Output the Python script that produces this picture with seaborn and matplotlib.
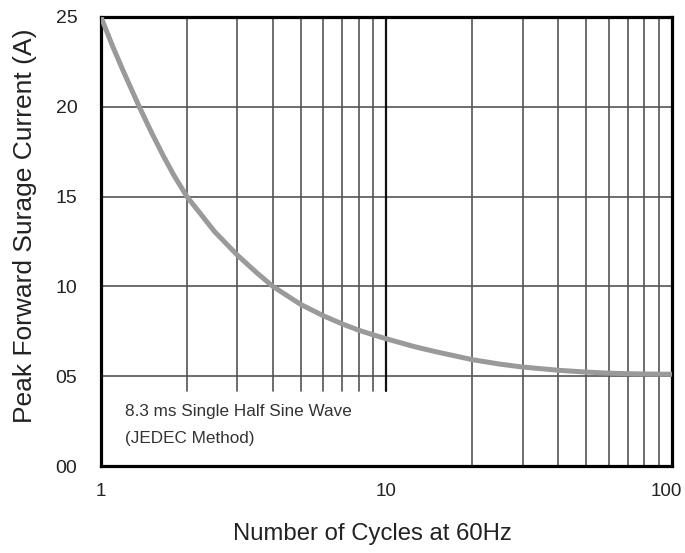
import matplotlib
matplotlib.use("Agg")
import matplotlib.pyplot as plt
import matplotlib.transforms as mtransforms
import seaborn as sns
import pandas as pd
from matplotlib.ticker import FixedLocator, FixedFormatter, NullLocator

# Data
cycles = [1, 1.1, 1.2, 1.362, 1.5, 1.653, 1.8, 2, 2.5, 3, 3.5, 4, 5, 6, 7, 8, 9, 10,
          12.5, 15, 20, 25, 30, 40, 50, 60, 70, 80, 90, 100]
current = [25.0, 23.35, 21.95, 20.0, 18.6, 17.27, 16.19, 15.0, 13.05, 11.75, 10.78, 10.0,
           9.0, 8.37, 7.91, 7.56, 7.3, 7.08, 6.65, 6.35, 5.92, 5.67, 5.51, 5.33, 5.23,
           5.17, 5.14, 5.125, 5.115, 5.11]
y_ticks = [0, 5, 10, 15, 20, 25]
y_ticklabels = ["00", "05", "10", "15", "20", "25"]
x_ticks = [1, 10, 100]
x_ticklabels = ["1", "10", "100"]
grid_y = [5, 10, 15, 20]
grid_x_low = [2, 3, 4, 5, 6, 7, 8, 9]
grid_x_high = [20, 30, 40, 50, 60, 70, 80, 90]

sns.set_theme(style="white")
plt.rcParams['font.family'] = ['Liberation Sans', 'DejaVu Sans']

fig = plt.figure(figsize=(6.85, 5.53), dpi=100)
ax = fig.add_axes([0.1474, 0.1573, 0.9810 - 0.1474, 0.9693 - 0.1573])

ax.set_xscale('log')
ax.set_xlim(1, 100)
ax.set_ylim(0, 25)

grid_color = "#555555"
for gy in grid_y:
    ax.axhline(gy, color=grid_color, lw=1.2, zorder=1)
low_frac = 4.2 / 25
for gx in grid_x_low:
    ax.axvline(gx, ymin=low_frac, ymax=1, color=grid_color, lw=1.2, zorder=1)
ax.axvline(10, ymin=low_frac, ymax=1, color="#111111", lw=1.6, zorder=1)
for gx in grid_x_high:
    ax.axvline(gx, color=grid_color, lw=1.2, zorder=1)

df = pd.DataFrame({"cycles": cycles, "current": current})
sns.lineplot(data=df, x="cycles", y="current", ax=ax, color="#9a9a9a", lw=3.6,
             zorder=3, solid_capstyle="butt", solid_joinstyle="round")

ax.xaxis.set_major_locator(FixedLocator(x_ticks))
ax.xaxis.set_major_formatter(FixedFormatter(x_ticklabels))
ax.xaxis.set_minor_locator(NullLocator())
ax.set_yticks(y_ticks)
ax.set_yticklabels(y_ticklabels)
ax.tick_params(axis='both', length=0, labelsize=14, colors="#222222")
ax.tick_params(axis='x', labelsize=13.5)
ax.tick_params(axis='y', pad=17)
ax.tick_params(axis='x', pad=12)

# shift last x tick label slightly left, as in the reference
shift = mtransforms.ScaledTranslation(-6 / 100, 0, fig.dpi_scale_trans)
xlabels = ax.get_xticklabels()
xlabels[-1].set_transform(xlabels[-1].get_transform() + shift)

ax.set_xlabel("Number of Cycles at 60Hz", fontsize=17.2, color="#222222")
ax.xaxis.set_label_coords(0.475, -0.128)
ax.set_ylabel("Peak Forward Surage Current (A)", fontsize=19, color="#222222")
ax.yaxis.set_label_coords(-0.112, 0.535)

for s in ax.spines.values():
    s.set_visible(True)
    s.set_color("black")
    s.set_linewidth(2.3)

ax.text(1.214, 2.3, "8.3 ms Single Half Sine Wave\n(JEDEC Method)", fontsize=12.3,
        color="#333333", va="center", ha="left", linespacing=2.0)

fig.savefig("out.png", dpi=100)
